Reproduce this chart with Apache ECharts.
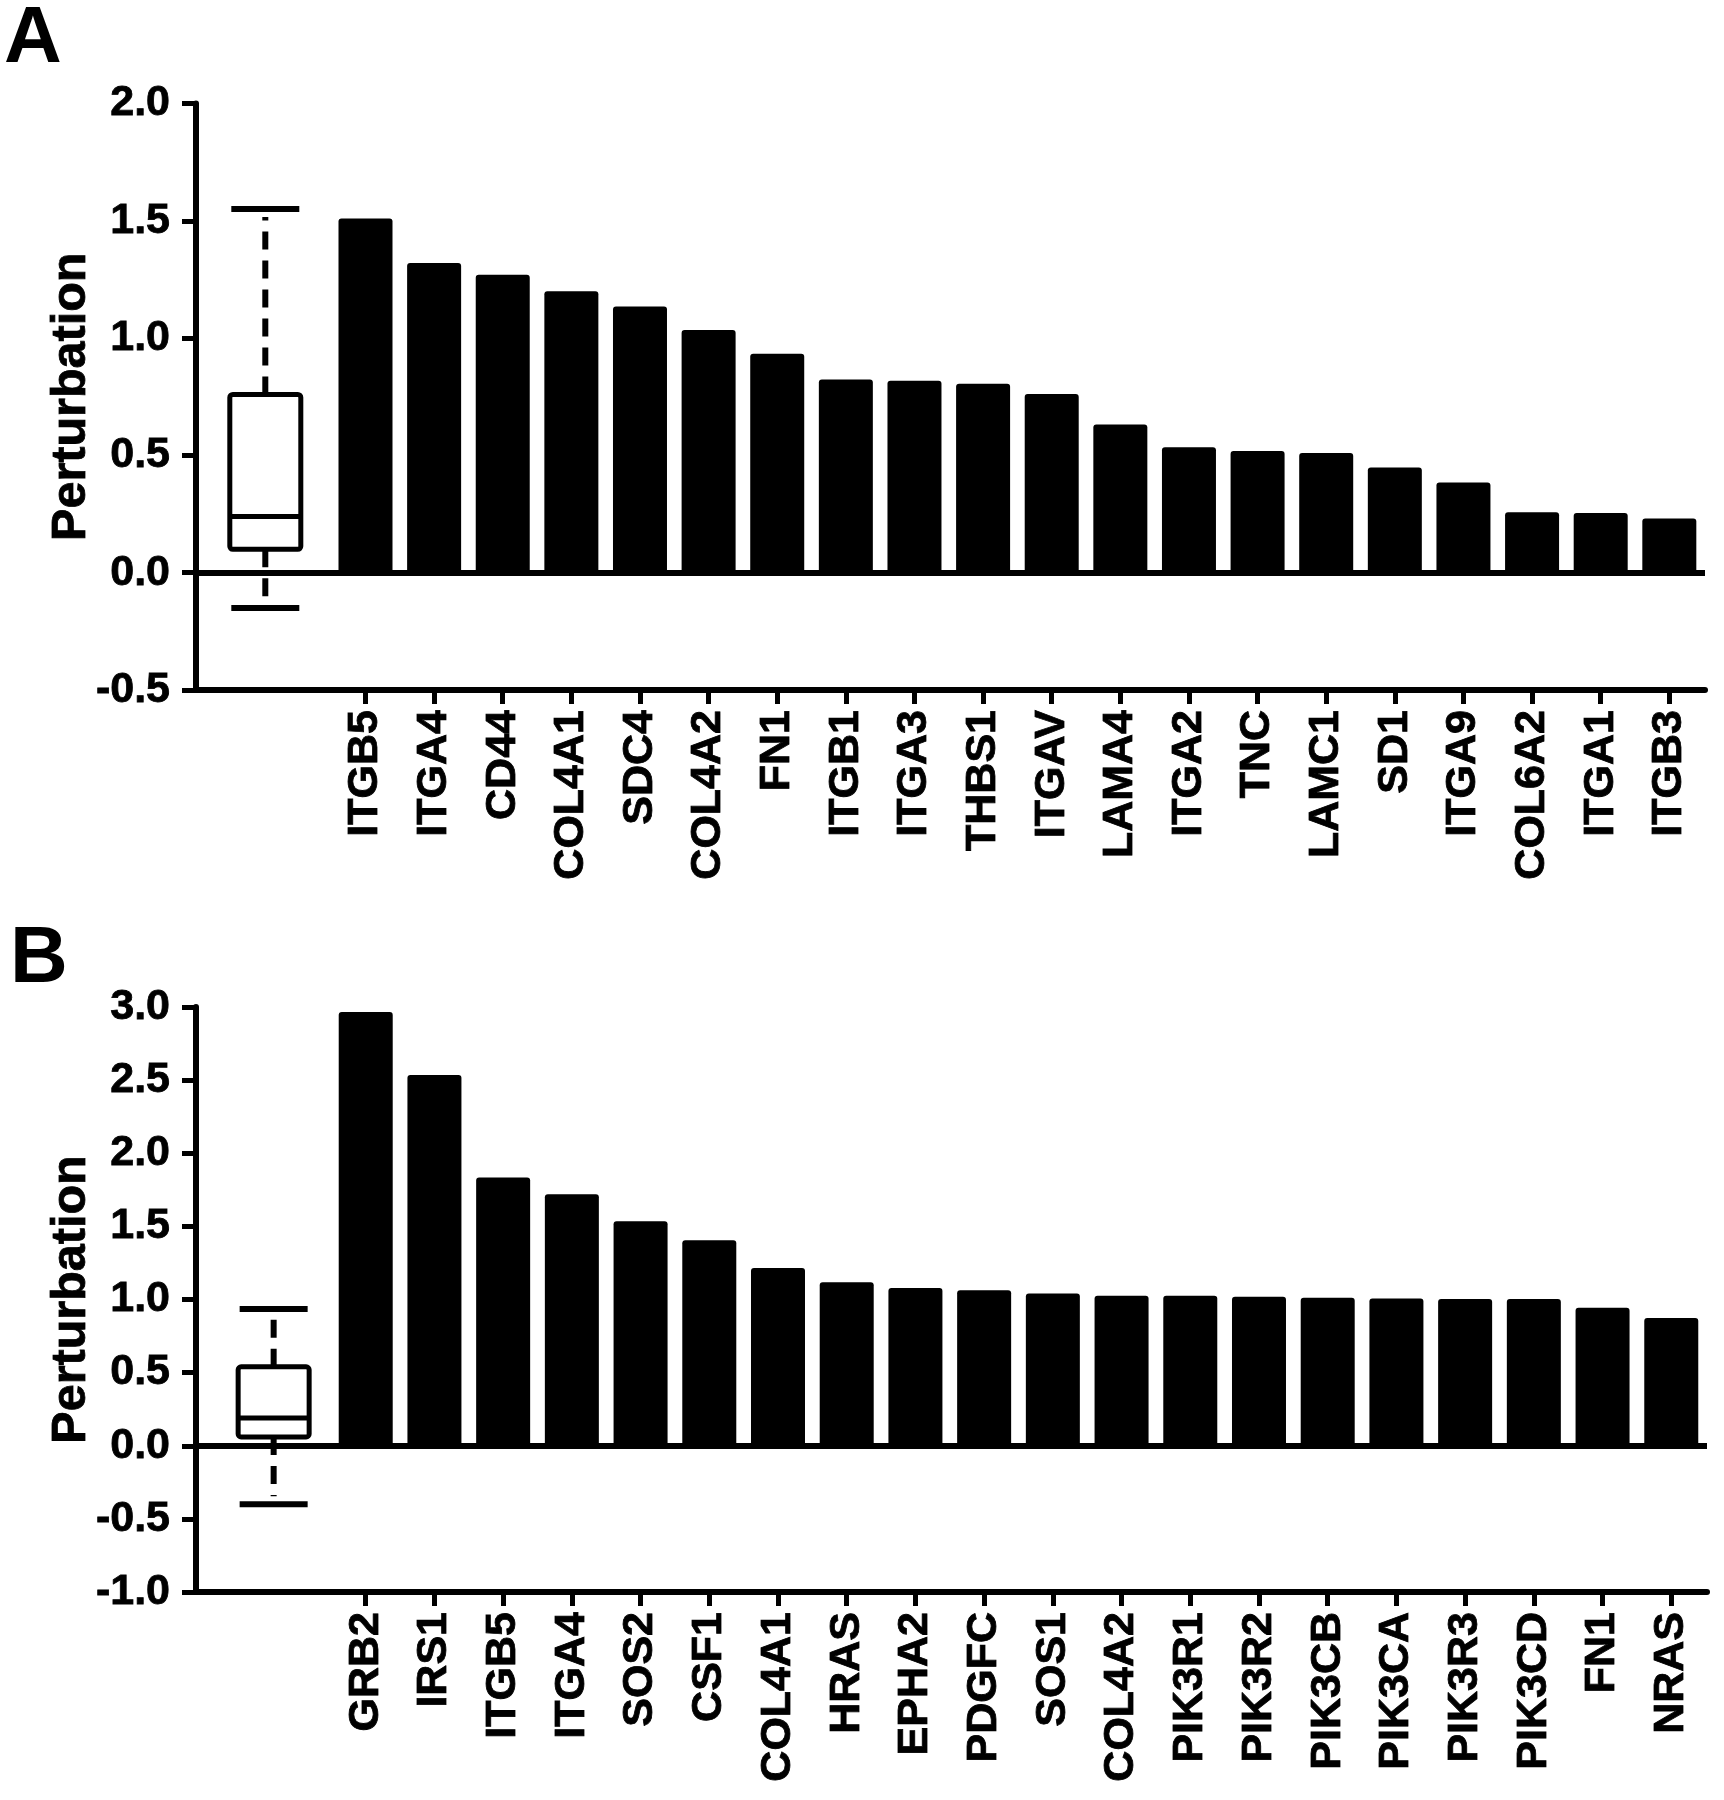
<!DOCTYPE html>
<html>
<head>
<meta charset="utf-8">
<script src="https://cdn.jsdelivr.net/npm/echarts@6/dist/echarts.min.js"></script>
<style>
  html, body { margin: 0; padding: 0; background: #fff; }
  #chart { width: 1724px; height: 1800px; }
</style>
</head>
<body>
<div id="chart"></div>
<script>
// ---------- Data ----------
const genesA = ['ITGB5','ITGA4','CD44','COL4A1','SDC4','COL4A2','FN1','ITGB1','ITGA3','THBS1','ITGAV','LAMA4','ITGA2','TNC','LAMC1','SD1','ITGA9','COL6A2','ITGA1','ITGB3'];
const valuesA = [1.51, 1.32, 1.27, 1.20, 1.135, 1.034, 0.933, 0.823, 0.818, 0.805, 0.762, 0.632, 0.535, 0.519, 0.51, 0.448, 0.385, 0.258, 0.254, 0.231];
// box: [lower whisker, Q1, median, Q3, upper whisker]
const boxA = [-0.15, 0.10, 0.24, 0.76, 1.55];
const yTicksA = { min: -0.5, max: 2.0, interval: 0.5 };

const genesB = ['GRB2','IRS1','ITGB5','ITGA4','SOS2','CSF1','COL4A1','HRAS','EPHA2','PDGFC','SOS1','COL4A2','PIK3R1','PIK3R2','PIK3CB','PIK3CA','PIK3R3','PIK3CD','FN1','NRAS'];
const valuesB = [2.965, 2.535, 1.835, 1.72, 1.535, 1.405, 1.215, 1.118, 1.078, 1.064, 1.041, 1.026, 1.026, 1.018, 1.012, 1.006, 1.003, 1.003, 0.943, 0.873];
const boxB = [-0.40, 0.06, 0.19, 0.54, 0.935];
const yTicksB = { min: -1.0, max: 3.0, interval: 0.5 };

// ---------- Layout / style ----------
const FONT = 'Liberation Sans, Arial, Helvetica, sans-serif';
const X_MIN = -1.47, X_MAX = 20.52;
const BOX_X_A = -0.46, BOX_X_B = -0.34;

function boxRender(params, api) {
  const x = api.value(0);
  const lo = api.coord([x, api.value(1)]);
  const q1 = api.coord([x, api.value(2)]);
  const med = api.coord([x, api.value(3)]);
  const q3 = api.coord([x, api.value(4)]);
  const hi = api.coord([x, api.value(5)]);
  const cx = lo[0];
  const hw = 35.5, cw = 34;
  const dash = { stroke: '#000', lineWidth: 6, lineDash: [18, 11] };
  const solid = { stroke: '#000', lineWidth: 6 };
  return {
    type: 'group',
    children: [
      { type: 'line', shape: { x1: cx, y1: q3[1], x2: cx, y2: hi[1] + 8 }, style: dash },
      { type: 'line', shape: { x1: cx, y1: q1[1], x2: cx, y2: lo[1] - 8 }, style: dash },
      { type: 'line', shape: { x1: cx - cw, y1: hi[1], x2: cx + cw, y2: hi[1] }, style: solid },
      { type: 'line', shape: { x1: cx - cw, y1: lo[1], x2: cx + cw, y2: lo[1] }, style: solid },
      { type: 'rect', shape: { x: cx - hw, y: q3[1], width: 2 * hw, height: q1[1] - q3[1], r: 3 },
        style: { fill: '#fff', stroke: '#000', lineWidth: 5 } },
      { type: 'line', shape: { x1: cx - hw, y1: med[1], x2: cx + hw, y2: med[1] }, style: { stroke: '#000', lineWidth: 5 } }
    ]
  };
}

function xAxisFor(gridIndex, genes) {
  const ticks = genes.map((g, i) => i + 1);
  return {
    type: 'value', gridIndex, min: X_MIN, max: X_MAX,
    splitLine: { show: false },
    axisLine: { onZero: false, lineStyle: { color: '#000', width: 6 } },
    axisTick: { show: true, customValues: ticks, length: 14, lineStyle: { color: '#000', width: 5 } },
    axisLabel: {
      customValues: ticks, rotate: 90, margin: 20,
      formatter: v => genes[Math.round(v) - 1] || '',
      color: '#000', fontFamily: FONT, fontWeight: 'bold', fontSize: 43,
      textBorderColor: '#000', textBorderWidth: 0.8
    }
  };
}

function yAxisFor(gridIndex, t) {
  return {
    type: 'value', gridIndex, min: t.min, max: t.max, interval: t.interval,
    name: 'Perturbation', nameLocation: 'middle', nameGap: 100, nameRotate: 90,
    nameMoveOverlap: false,
    nameTextStyle: { color: '#000', fontFamily: FONT, fontWeight: 'bold', fontSize: 48.5,
      textBorderColor: '#000', textBorderWidth: 0.8 },
    splitLine: { show: false },
    axisLine: { show: true, onZero: false, lineStyle: { color: '#000', width: 6 } },
    axisTick: { show: true, length: 14, lineStyle: { color: '#000', width: 5 } },
    axisLabel: {
      margin: 26, color: '#000', fontFamily: FONT, fontWeight: 'bold', fontSize: 43,
      textBorderColor: '#000', textBorderWidth: 0.8,
      formatter: v => v.toFixed(1)
    }
  };
}

function barSeries(idx, values) {
  return {
    type: 'bar', xAxisIndex: idx, yAxisIndex: idx,
    data: values.map((v, i) => [i + 1, v]),
    barWidth: 54,
    itemStyle: { color: '#000', borderRadius: [3, 3, 0, 0] },
    silent: true, animation: false,
    markLine: {
      silent: true, symbol: 'none', animation: false,
      label: { show: false },
      lineStyle: { color: '#000', width: 6, type: 'solid' },
      data: [{ yAxis: 0 }]
    },
    z: 2
  };
}

function boxSeries(idx, bx, stats) {
  return {
    type: 'custom', xAxisIndex: idx, yAxisIndex: idx,
    renderItem: boxRender,
    data: [[bx].concat(stats)],
    encode: { x: 0, y: [1, 2, 3, 4, 5] },
    clip: false, silent: true, animation: false, z: 5
  };
}

const chart = echarts.init(document.getElementById('chart'), null, { renderer: 'canvas' });
chart.setOption({
  animation: false,
  backgroundColor: '#fff',
  grid: [
    { left: 196, right: 19, top: 103.5, height: 586.5 },
    { left: 196, right: 17, top: 1007, height: 585 }
  ],
  xAxis: [xAxisFor(0, genesA), xAxisFor(1, genesB)],
  yAxis: [yAxisFor(0, yTicksA), yAxisFor(1, yTicksB)],
  graphic: [
    { type: 'text', left: 4, top: 0, style: { text: 'A', font: 'bold 80px ' + FONT, fill: '#000' } },
    { type: 'text', left: 10, top: 920, style: { text: 'B', font: 'bold 80px ' + FONT, fill: '#000' } }
  ],
  series: [
    barSeries(0, valuesA),
    boxSeries(0, BOX_X_A, boxA),
    barSeries(1, valuesB),
    boxSeries(1, BOX_X_B, boxB)
  ]
});
</script>
</body>
</html>
